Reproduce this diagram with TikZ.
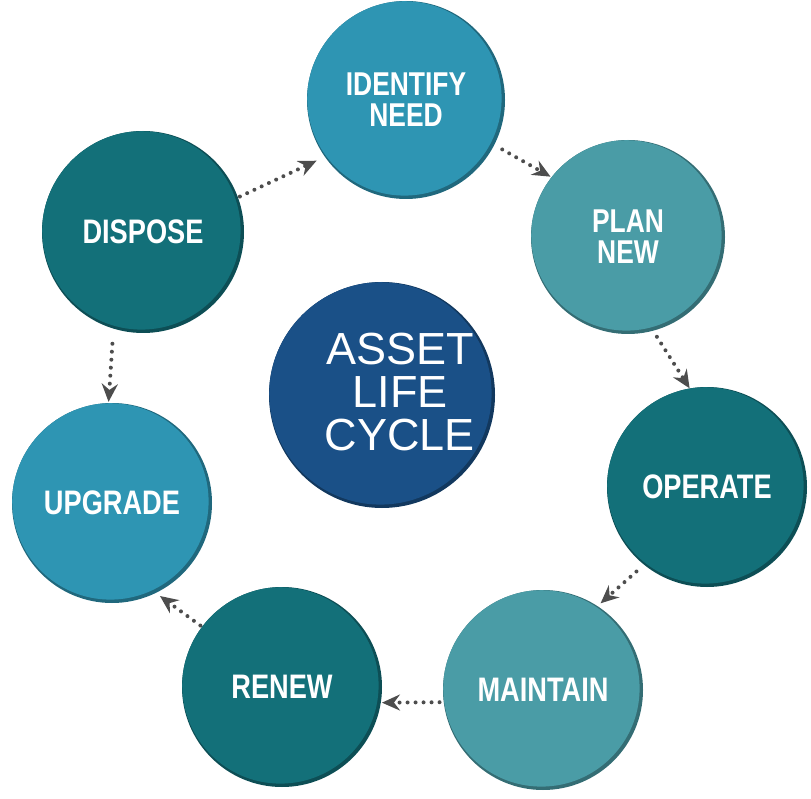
\documentclass[tikz,border=0pt]{standalone}
\usepackage{fontspec}
\setmainfont{Liberation Sans}
\newfontfamily\condfont[FakeStretch=0.8]{Liberation Sans}
\usetikzlibrary{arrows.meta,calc}
\definecolor{cblue}{HTML}{2E95B3}
\definecolor{cteal}{HTML}{4A9CA6}
\definecolor{cdark}{HTML}{137079}
\definecolor{cnavy}{HTML}{1A5087}
\definecolor{arrowgray}{HTML}{4D4D4D}
\tikzset{
  bub/.style n args={2}{circle, inner sep=0pt, minimum size=2*#2,
    fill=#1!70!black,
    path picture={\fill[#1] ([shift={(-1.6pt,1.6pt)}]path picture bounding box.center) circle[radius=#2-1.8pt];},
    text=white, align=center,
    font=\condfont\bfseries\fontsize{34}{31}\selectfont},
  twoline/.style={font=\condfont\bfseries\fontsize{33}{31}\selectfont},
  centertext/.style={text=white, align=center, font=\fontsize{45}{43}\selectfont},
  flow/.style={arrowgray, line width=4pt, line cap=round, dash pattern=on 0pt off 8pt,
    -{Stealth[length=18pt,width=16pt,inset=6pt]}}
}
\begin{document}
\begin{tikzpicture}[x=1pt,y=-1pt]
\useasboundingbox (0,0) rectangle (811,799);
\node[bub={cblue}{99pt}, twoline] (identify) at (406,100) {IDENTIFY\\NEED};
\node[bub={cteal}{97pt}, twoline] (plan) at (628,237) {PLAN\\NEW};
\node[bub={cdark}{100pt}] (operate) at (707,487) {OPERATE};
\node[bub={cteal}{100pt}] (maintain) at (543,690) {MAINTAIN};
\node[bub={cdark}{100pt}] (renew) at (282,687) {RENEW};
\node[bub={cblue}{100pt}] (upgrade) at (112,503) {UPGRADE};
\node[bub={cdark}{101pt}] (dispose) at (143,232) {DISPOSE};
\node[bub={cnavy}{113pt}] (core) at (382,395) {};
\node[centertext] (coretext) at (400,392) {ASSET\\LIFE\\CYCLE};

\draw[flow, shorten <=2pt, shorten >=9pt] (dispose.20) -- (identify.215);
\draw[flow, shorten <=9pt, shorten >=1pt] (identify.-27) -- (plan.142);
\draw[flow, shorten <=7pt, shorten >=0pt] (plan.-75) -- (operate.100);
\draw[flow, shorten <=10pt, shorten >=4pt] (operate.231) -- (maintain.57);
\draw[flow, shorten <=4pt, shorten >=1pt] (maintain.187) -- (renew.-9);
\draw[flow, shorten <=2pt, shorten >=5pt] (renew.143) -- (upgrade.-64);
\draw[flow, shorten <=15pt, shorten >=1pt] (dispose.-107) -- (upgrade.92);
\end{tikzpicture}
\end{document}
